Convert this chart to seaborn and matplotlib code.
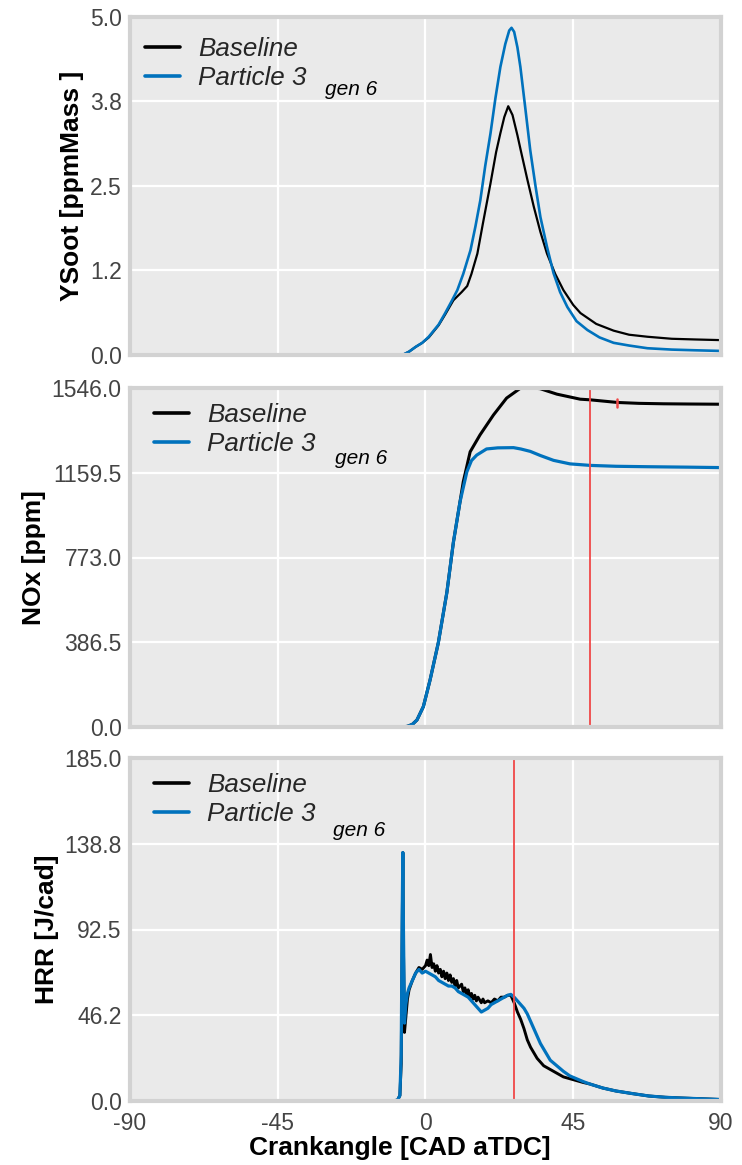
import numpy as np
import pandas as pd
import matplotlib
matplotlib.use("Agg")
import matplotlib.pyplot as plt
import seaborn as sns
from matplotlib.ticker import FixedLocator, FormatStrFormatter

# ---------------- data ----------------
SERIES_NAMES = ["Baseline", "Particle 3"]
SUBSCRIPT = "gen 6"

# YSoot [ppmMass]
soot_base_cad = [-90, -7, -5, -3, -1, 1, 4, 6, 8.5, 11, 12.7, 14, 15.8, 17.5, 19.8, 21.5,
                 22.8, 24, 25.2, 26.5, 28, 29, 31, 33, 35, 37, 39.5, 42, 45, 47.2, 52,
                 57.3, 62, 67.6, 75, 82, 90]
soot_base_val = [0, 0, 0.05, 0.12, 0.18, 0.26, 0.44, 0.6, 0.81, 0.93, 1.02, 1.2, 1.5, 1.95,
                 2.54, 3.0, 3.28, 3.52, 3.68, 3.55, 3.25, 3.03, 2.6, 2.19, 1.82, 1.5, 1.2,
                 0.96, 0.74, 0.62, 0.46, 0.36, 0.3, 0.27, 0.24, 0.23, 0.22]
soot_p3_cad = [-90, -7, -5, -3, -1, 1, 4, 6, 8, 9.7, 11.5, 13.7, 15.2, 16.7, 18.2, 19.8,
               21.3, 22.8, 24.3, 25.5, 26.2, 27, 28, 28.9, 30.4, 31.9, 33.5, 35, 37, 39,
               41, 43.2, 46, 49.3, 53, 57.3, 62, 67.6, 75, 82, 90]
soot_p3_val = [0, 0, 0.05, 0.12, 0.18, 0.27, 0.45, 0.62, 0.8, 0.96, 1.2, 1.55, 1.9, 2.29,
               2.8, 3.28, 3.8, 4.26, 4.6, 4.8, 4.84, 4.78, 4.55, 4.26, 3.65, 3.03, 2.5,
               2.04, 1.6, 1.21, 0.93, 0.71, 0.5, 0.37, 0.26, 0.18, 0.14, 0.1, 0.08, 0.07,
               0.06]

# NOx [ppm]
nox_base_cad = [-90, -7, -5.5, -4, -2.6, -0.65, 1.4, 3.9, 6.5, 8.5, 10.5, 11.5, 13.6, 16.6,
                20.7, 24.7, 28.8, 30.5, 32.5, 34.9, 40, 47.1, 50.2, 58.5, 65, 72.5, 80, 90]
nox_base_val = [0, 0, 3, 12, 32, 93, 215, 384, 613, 843, 1026, 1118, 1255, 1332, 1423,
                1500, 1544, 1546, 1546, 1543, 1518, 1495, 1492, 1480, 1476, 1474, 1473,
                1472]
nox_p3_cad = [-90, -7, -5.5, -4, -2.6, -0.65, 1.4, 3.9, 6.5, 8.5, 10.5, 12.6, 14, 15.6,
              18.6, 22, 26.8, 29, 31.9, 35, 39, 44, 50.2, 58, 67.6, 80, 90]
nox_p3_val = [0, 0, 3, 12, 32, 93, 215, 384, 613, 843, 1026, 1164, 1215, 1240, 1268, 1273,
              1274, 1268, 1257, 1238, 1216, 1200, 1193, 1189, 1187, 1185, 1183]

# HRR [J/cad]
hrr_base_cad = [-90, -10, -8.5, -7.8, -7.4, -7.1, -6.9, -6.7, -6.4, -6.0, -5.5, -5, -4, -3,
                -2, -1, 0, 0.5, 1, 1.5, 2, 2.5, 3, 3.5, 4, 4.5, 5, 5.5, 6, 6.5, 7, 7.5, 8,
                8.5, 9, 9.5, 10, 11, 11.5, 12, 12.5, 13, 13.5, 14, 14.5, 15, 15.5, 16, 17,
                17.5, 18, 19, 20, 21, 22, 23, 24, 25, 26, 27, 28, 29, 30, 31, 32, 33, 34,
                36, 38, 40, 42, 44, 46, 48, 50, 54, 58, 63, 68, 73, 78, 84, 90]
hrr_base_val = [0, 0, 0.5, 3, 20, 90, 134, 80, 37, 45, 55, 60, 65, 69, 72, 71, 73, 76, 73,
                79, 72, 74, 70, 73, 69, 71, 67, 70, 66, 69, 65, 68, 64, 66, 62, 65, 61, 63,
                59, 61, 57, 60, 56, 58, 55, 57, 54, 56, 53, 55, 53, 54, 53, 55, 54, 56, 56,
                57, 57, 53, 48, 44, 39, 33, 29, 26, 23, 19, 17, 15, 13, 12, 11, 10, 9.2, 7,
                5.4, 4, 2.7, 2, 1.6, 1.2, 0.8]
hrr_p3_cad = [-90, -10, -8.5, -7.8, -7.4, -7.1, -6.9, -6.7, -6.4, -6.0, -5.5, -5, -4, -3,
              -2, -1, 0, 1, 2, 3, 4, 5, 6, 7, 8, 9, 10, 11, 12, 13, 14, 15, 16, 17, 18, 19,
              20, 21, 22, 23, 24, 25, 26, 27, 28, 29, 30, 31, 32, 33, 34, 35, 36, 38, 40,
              42, 44, 46, 48, 50, 54, 58, 63, 68, 73, 78, 84, 90]
hrr_p3_val = [0, 0, 0.5, 3, 25, 100, 134, 90, 42, 52, 58, 61, 65, 69, 71, 69, 70, 69, 68,
              67, 65, 64, 63, 62, 62, 61, 59, 58, 57, 56, 54, 52, 50, 48, 49, 50, 52, 53,
              54, 55, 56, 57, 57.5, 56, 54, 52, 50, 47, 43, 39, 35, 31, 28, 22, 19, 16,
              13.5, 12, 10.5, 9.2, 7, 5.4, 4, 2.7, 2, 1.6, 1.2, 0.8]

# annotation markers
nox_marker_cad = 50.2
nox_tick_cad = 58.3
nox_tick_range = [1459, 1497]
hrr_marker_cad = 27

x_ticks = [-90, -45, 0, 45, 90]
y_max = [5.0, 1546.0, 185.0]
y_labels = ["YSoot [ppmMass ]", "NOx [ppm]", "HRR [J/cad]"]
x_label = "Crankangle [CAD aTDC]"

# ---------------- style ----------------
sns.set_theme(style="darkgrid")
plt.rcParams["font.family"] = ["Liberation Sans", "DejaVu Sans"]
plt.rcParams["axes.unicode_minus"] = False
plt.rcParams["axes.facecolor"] = "#EAEAEA"
plt.rcParams["axes.edgecolor"] = "#D2D2D2"
plt.rcParams["grid.color"] = "white"

BLACK = "#000000"
BLUE = "#0072BD"
RED = "#F04848"
TICK_COLOR = "#444444"

fig = plt.figure(figsize=(7.42, 11.65), dpi=100)
W, H = 742, 1165
rects_px = [(130, 17, 721, 355), (130, 388, 721, 727), (130, 758, 721, 1101)]
axes = []
for (l, t, r, b) in rects_px:
    axes.append(fig.add_axes([l / W, 1 - b / H, (r - l) / W, (b - t) / H]))

panels = [
    (soot_base_cad, soot_base_val, soot_p3_cad, soot_p3_val, 1.6, 1.9),
    (nox_base_cad, nox_base_val, nox_p3_cad, nox_p3_val, 2.2, 2.3),
    (hrr_base_cad, hrr_base_val, hrr_p3_cad, hrr_p3_val, 2.1, 2.3),
]
legend_anchor = [(0.025, 0.941), (0.041, 0.955), (0.040, 0.956)]
sub_pos = [(0.330, 0.786), (0.347, 0.792), (0.344, 0.788)]

for i, ax in enumerate(axes):
    bx, by, px, py, lwb, lwp = panels[i]
    sns.lineplot(x=bx, y=by, ax=ax, color=BLACK, lw=lwb, label=SERIES_NAMES[0])
    sns.lineplot(x=px, y=py, ax=ax, color=BLUE, lw=lwp, label=SERIES_NAMES[1])
    ax.set_xlim(-90, 90)
    ax.set_ylim(0, y_max[i])
    ax.xaxis.set_major_locator(FixedLocator(x_ticks))
    ax.yaxis.set_major_locator(FixedLocator(np.linspace(0, y_max[i], 5)))
    ax.yaxis.set_major_formatter(FormatStrFormatter("%.1f"))
    ax.grid(True, color="white", lw=1.6)
    ax.set_axisbelow(True)
    for s in ax.spines.values():
        s.set_visible(True)
        s.set_color("#D2D2D2")
        s.set_linewidth(3)
    ax.tick_params(axis="both", length=0, labelsize=16.5, colors=TICK_COLOR, pad=6)
    ax.set_ylabel(y_labels[i], fontsize=19, fontweight="bold", color="black", labelpad=4)
    if i < 2:
        ax.set_xticklabels([])
        ax.set_xlabel("")
    else:
        ax.tick_params(axis="x", pad=8)
        ax.set_xlabel(x_label, fontsize=19, fontweight="bold", color="black")
        ax.xaxis.set_label_coords(0.457, -0.102)
    leg = ax.legend(loc="upper left", bbox_to_anchor=legend_anchor[i], frameon=False,
                    borderpad=0, borderaxespad=0, handlelength=1.35, handletextpad=0.7,
                    labelspacing=0.2, prop={"size": 18.7, "style": "italic"})
    for line in leg.get_lines():
        line.set_linewidth(2.6)
    ax.text(sub_pos[i][0], sub_pos[i][1], SUBSCRIPT, transform=ax.transAxes,
            fontsize=15, style="italic", ha="left", va="center", color="black")

axes[1].axvline(nox_marker_cad, color=RED, lw=1.3)
axes[1].plot([nox_tick_cad, nox_tick_cad], nox_tick_range, color=RED, lw=1.8)
axes[2].axvline(hrr_marker_cad, color=RED, lw=1.3)

fig.savefig("out.png", dpi=100)
